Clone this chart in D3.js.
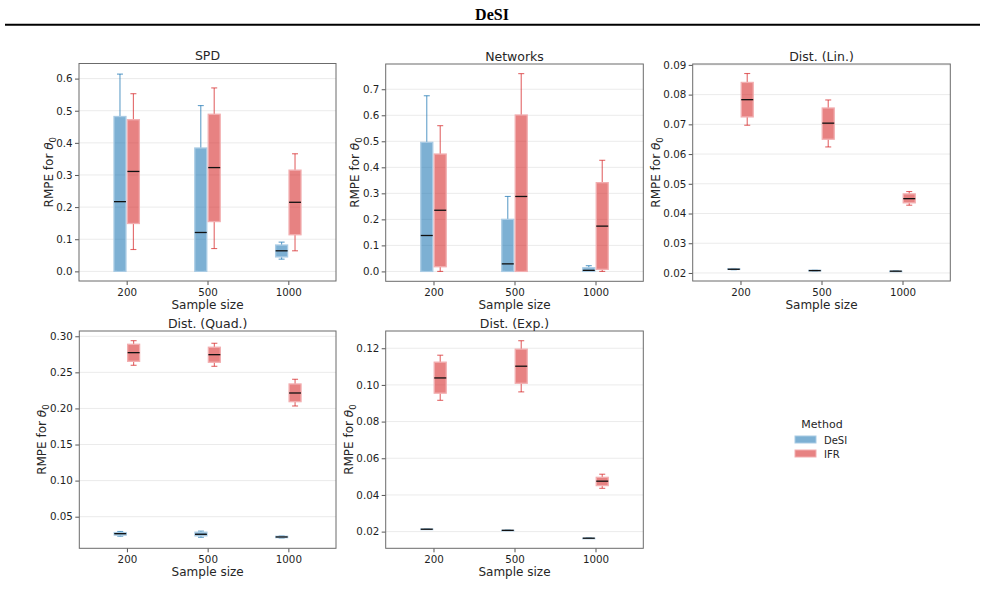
<!DOCTYPE html>
<html lang="en">
<head>
<meta charset="UTF-8">
<title>DeSI</title>
<style>
    body { margin: 0; background: #fff; }
    text { font-family: "DejaVu Sans", sans-serif; fill: #262626; }
    .tick text { font-size: 10.3px; fill: #1f1f1f; }
    .tick line { stroke: #555; }
    .domain { display: none; }
</style>
</head>
<body>
<svg id="chart"></svg>
<script src="https://d3js.org/d3.v7.min.js"></script>
<script>
// sample sizes and methods
var categories = ["200", "500", "1000"]
var methods = ["DeSI", "IFR"]

// box stats per sample size: [whisker low, q1, median, q3, whisker high]
var spdDeSI = [[0, 0, 0.217, 0.482, 0.614], [0, 0, 0.121, 0.384, 0.516], [0.038, 0.045, 0.064, 0.082, 0.091]]
var spdIFR = [[0.068, 0.149, 0.311, 0.472, 0.553], [0.071, 0.155, 0.323, 0.489, 0.571], [0.064, 0.114, 0.215, 0.315, 0.366]]

var netDeSI = [[0, 0, 0.138, 0.496, 0.675], [0, 0, 0.029, 0.2, 0.288], [0, 0, 0.004, 0.014, 0.022]]
var netIFR = [[0, 0.018, 0.235, 0.451, 0.56], [0, 0, 0.288, 0.601, 0.76], [0, 0.008, 0.174, 0.341, 0.427]]

var linDeSI = [[0.0211, 0.0212, 0.02125, 0.0214, 0.0215], [0.0207, 0.0207, 0.0208, 0.0209, 0.0209], [0.0205, 0.0206, 0.0206, 0.0206, 0.0207]]
var linIFR = [[0.0697, 0.0725, 0.0783, 0.0841, 0.0871], [0.0624, 0.065, 0.0704, 0.0755, 0.0782], [0.0428, 0.0436, 0.045, 0.0466, 0.0474]]

var quadDeSI = [[0.023, 0.0245, 0.0265, 0.028, 0.0295], [0.0215, 0.0235, 0.0256, 0.0285, 0.03], [0.0205, 0.021, 0.0219, 0.0228, 0.0232]]
var quadIFR = [[0.2598, 0.2653, 0.2773, 0.2889, 0.2939], [0.2584, 0.264, 0.2745, 0.2848, 0.2903], [0.2034, 0.2094, 0.2214, 0.2339, 0.2404]]

var expDeSI = [[0.0212, 0.0212, 0.0213, 0.0214, 0.0214], [0.0206, 0.0206, 0.0207, 0.0207, 0.0208], [0.0163, 0.0163, 0.0164, 0.0164, 0.0165]]
var expIFR = [[0.0916, 0.0955, 0.1038, 0.1124, 0.1162], [0.0962, 0.1009, 0.1102, 0.1195, 0.1241], [0.0436, 0.0451, 0.0475, 0.0496, 0.0513]]

// y tick labels
var spdTicks = [0, 0.1, 0.2, 0.3, 0.4, 0.5, 0.6]
var netTicks = [0, 0.1, 0.2, 0.3, 0.4, 0.5, 0.6, 0.7]
var linTicks = [0.02, 0.03, 0.04, 0.05, 0.06, 0.07, 0.08, 0.09]
var quadTicks = [0.05, 0.10, 0.15, 0.20, 0.25, 0.30]
var expTicks = [0.02, 0.04, 0.06, 0.08, 0.10, 0.12]

var fills = ["#1f77b4", "#d62728"]
var edges = ["#a9cbe4", "#f2aeb0"]

var svgWidth = 985, svgHeight = 598
var svg = d3.select('#chart')
    .attr('width', svgWidth)
    .attr('height', svgHeight)

// header
svg.append('text')
    .attr('x', 492).attr('y', 20)
    .attr('text-anchor', 'middle')
    .style('font-family', '"Liberation Serif", serif')
    .style('font-weight', 'bold')
    .style('font-size', '16px')
    .style('fill', '#000')
    .text('DeSI')
svg.append('line')
    .attr('x1', 5).attr('x2', 980)
    .attr('y1', 24.7).attr('y2', 24.7)
    .attr('stroke', '#000').attr('stroke-width', 2)

var panels = [
    {title: 'SPD', d: spdDeSI, r: spdIFR, ticks: spdTicks, fmt: '.1f', dom: [-0.03, 0.647], x0: 79, x1: 336, y0: 63.5, y1: 281},
    {title: 'Networks', d: netDeSI, r: netIFR, ticks: netTicks, fmt: '.1f', dom: [-0.038, 0.797], x0: 385.7, x1: 643.3, y0: 64, y1: 281.3},
    {title: 'Dist. (Lin.)', d: linDeSI, r: linIFR, ticks: linTicks, fmt: '.2f', dom: [0.0173, 0.0903], x0: 692.7, x1: 950.3, y0: 64, y1: 281},
    {title: 'Dist. (Quad.)', d: quadDeSI, r: quadIFR, ticks: quadTicks, fmt: '.2f', dom: [0.0062, 0.3073], x0: 79.3, x1: 336, y0: 331, y1: 548.3},
    {title: 'Dist. (Exp.)', d: expDeSI, r: expIFR, ticks: expTicks, fmt: '.2f', dom: [0.0109, 0.1294], x0: 385.7, x1: 643.3, y0: 331, y1: 548.3}
]

panels.forEach(function (p) {
    var g = svg.append('g')
    var x = d3.scalePoint().domain(categories).range([p.x0, p.x1]).padding(0.59)
    var y = d3.scaleLinear().domain(p.dom).range([p.y1, p.y0])

    // grid
    g.selectAll('line.grid')
        .data(p.ticks)
        .enter()
        .append('line')
        .attr('x1', p.x0).attr('x2', p.x1)
        .attr('y1', function (d) { return y(d) })
        .attr('y2', function (d) { return y(d) })
        .attr('stroke', '#ebebeb').attr('stroke-width', 1)

    var ya = g.append('g')
        .attr('transform', 'translate(' + p.x0 + ',0)')
        .call(d3.axisLeft(y).tickValues(p.ticks).tickFormat(d3.format(p.fmt)).tickSize(4).tickPadding(2.4))
    g.append('g')
        .attr('transform', 'translate(0,' + p.y1 + ')')
        .call(d3.axisBottom(x).tickSize(4).tickPadding(3.5))

    var bw = x.step() * 0.148
    var off = x.step() * 0.083
    var series = [p.d, p.r]
    series.forEach(function (s, j) {
        var cx = function (i) { return x(categories[i]) + (j === 0 ? -off : off) }
        var bx = g.selectAll('g.b' + j)
            .data(s)
            .enter()
            .append('g')
        // whiskers: q1 -> low, q3 -> high, each with a cap
        ;[[1, 0], [3, 4]].forEach(function (w) {
            bx.append('line')
                .attr('x1', function (d, i) { return cx(i) }).attr('x2', function (d, i) { return cx(i) })
                .attr('y1', function (d) { return y(d[w[0]]) }).attr('y2', function (d) { return y(d[w[1]]) })
                .attr('stroke', fills[j]).attr('stroke-opacity', 0.7).attr('stroke-width', 1.1)
            bx.append('line')
                .attr('x1', function (d, i) { return cx(i) - bw / 4 }).attr('x2', function (d, i) { return cx(i) + bw / 4 })
                .attr('y1', function (d) { return y(d[w[1]]) }).attr('y2', function (d) { return y(d[w[1]]) })
                .attr('stroke', fills[j]).attr('stroke-opacity', 0.7).attr('stroke-width', 1.1)
        })
        bx.append('rect')
            .attr('x', function (d, i) { return cx(i) - bw / 2 })
            .attr('width', bw)
            .attr('y', function (d) { return y(d[3]) })
            .attr('height', function (d) { return Math.max(0.5, y(d[1]) - y(d[3])) })
            .attr('fill', fills[j]).attr('fill-opacity', 0.58)
            .attr('stroke', edges[j]).attr('stroke-width', 1.3)
        bx.append('line')
            .attr('x1', function (d, i) { return cx(i) - bw / 2 }).attr('x2', function (d, i) { return cx(i) + bw / 2 })
            .attr('y1', function (d) { return y(d[2]) }).attr('y2', function (d) { return y(d[2]) })
            .attr('stroke', '#111').attr('stroke-width', 1.3)
    })

    // frame
    g.append('rect')
        .attr('x', p.x0).attr('y', p.y0)
        .attr('width', p.x1 - p.x0).attr('height', p.y1 - p.y0)
        .attr('fill', 'none').attr('stroke', '#6b6b6b').attr('stroke-width', 1)

    g.append('text')
        .attr('x', (p.x0 + p.x1) / 2).attr('y', p.y0 - 3.5)
        .attr('text-anchor', 'middle')
        .style('font-size', '12.5px')
        .text(p.title)
    g.append('text')
        .attr('x', (p.x0 + p.x1) / 2).attr('y', p.y1 + 28)
        .attr('text-anchor', 'middle')
        .style('font-size', '12px')
        .text('Sample size')

    var maxW = 0
    ya.selectAll('text').each(function () { maxW = Math.max(maxW, this.getBBox().width) })
    var lx = p.x0 - 6.4 - maxW - 3.5
    var ly = (p.y0 + p.y1) / 2
    var lab = g.append('text')
        .attr('transform', 'translate(' + lx + ',' + ly + ') rotate(-90)')
        .attr('text-anchor', 'middle')
        .style('font-size', '12px')
    lab.append('tspan').text('RMPE for ')
    lab.append('tspan').style('font-style', 'italic').text('θ')
    lab.append('tspan').attr('dy', 3).style('font-size', '8.5px').text('0')
})

// legend
var lg = svg.append('g')
lg.append('text')
    .attr('x', 822).attr('y', 428)
    .attr('text-anchor', 'middle')
    .style('font-size', '11px')
    .text('Method')
methods.forEach(function (m, i) {
    lg.append('rect')
        .attr('x', 795).attr('y', 436 + i * 14)
        .attr('width', 21).attr('height', 7)
        .attr('fill', fills[i]).attr('fill-opacity', 0.58)
        .attr('stroke', edges[i]).attr('stroke-width', 1)
    lg.append('text')
        .attr('x', 824).attr('y', 443.5 + i * 14)
        .style('font-size', '10px')
        .text(m)
})
</script>
</body>
</html>
